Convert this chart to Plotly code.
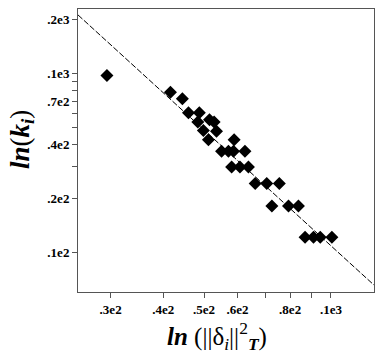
import numpy as np
import plotly.graph_objects as go

# scatter points (log-log axes)
norm_vals = [29.4, 41.6, 44.4, 45.9, 48.7, 48.3, 51.5, 52.8, 49.8, 53.5,
             51.2, 58.9, 55.0, 57.1, 58.7, 62.5, 58.1, 60.8, 63.7, 66.1,
             70.4, 75.4, 72.4, 79.3, 83.7, 86.8, 90.9, 94.3, 100.5]
k_vals = [97.5, 78.6, 72.2, 60.3, 60.3, 53.5, 55.1, 53.5, 48.0, 47.6,
          42.6, 42.6, 36.7, 36.7, 36.7, 36.7, 30.0, 30.0, 30.0, 24.2,
          24.2, 24.2, 18.1, 18.1, 18.1, 12.1, 12.1, 12.1, 12.1]

# fitted line endpoints
fit_x = [25.1, 126.5]
fit_y = [213, 6.54]

x_ticks = [30, 40, 50, 60, 80, 100]
x_labels = [".3e2", ".4e2", ".5e2", ".6e2", ".8e2", ".1e3"]
x_minor = [70, 90]
y_ticks = [10, 20, 40, 70, 100, 200]
y_labels = [".1e2", ".2e2", ".4e2", ".7e2", ".1e3", ".2e3"]
y_minor = [30, 50, 60, 80, 90]

SERIF = "Liberation Serif, Times New Roman, serif"

fig = go.Figure()

fig.add_trace(go.Scatter(
    x=fit_x, y=fit_y, mode="lines",
    line=dict(color="black", width=1, dash="6px,2px"),
    hoverinfo="skip", showlegend=False,
))

fig.add_trace(go.Scatter(
    x=norm_vals, y=k_vals, mode="markers",
    marker=dict(symbol="diamond", size=10, color="black", line=dict(width=0)),
    showlegend=False,
))

axis_common = dict(
    showgrid=False, zeroline=False, showline=True, mirror=True,
    linecolor="#555555", linewidth=1, ticks="outside", ticklen=5,
    tickcolor="#555555", tickmode="array",
    tickfont=dict(family=SERIF, size=13, color="black", weight="bold"),
)

fig.update_xaxes(
    type="log", range=[np.log10(25.1), np.log10(126.5)],
    tickvals=x_ticks, ticktext=x_labels,
    minor=dict(tickmode="array", tickvals=x_minor, ticks="outside",
               ticklen=5, tickcolor="#555555", showgrid=False),
    **axis_common,
)
fig.update_yaxes(
    type="log", range=[np.log10(5.98), np.log10(230)],
    tickvals=y_ticks, ticktext=y_labels,
    minor=dict(tickmode="array", tickvals=y_minor, ticks="outside",
               ticklen=5, tickcolor="#555555", showgrid=False),
    **axis_common,
)

fig.add_annotation(
    text="<b><i>ln</i></b> (||δ<sub><i>i</i></sub>||<sup>2</sup><sub><b><i>T</i></b></sub>)",
    xref="paper", yref="paper", x=0.47, y=-0.155,
    xanchor="center", yanchor="middle", showarrow=False,
    font=dict(family=SERIF, size=25, color="black"),
)
fig.add_annotation(
    text="<b><i>ln</i></b>(<b><i>k<sub>i</sub></i></b>)",
    xref="paper", yref="paper", x=-0.19, y=0.54,
    xanchor="center", yanchor="middle", textangle=-90, showarrow=False,
    font=dict(family=SERIF, size=27, color="black"),
)

fig.update_layout(
    width=382, height=354,
    margin=dict(l=78, r=8, t=9, b=62),
    plot_bgcolor="white", paper_bgcolor="white",
    showlegend=False,
)

# the page's default body margin would push the figure off the window
fig.write_html(
    "out.html",
    config={"displayModeBar": False},
    post_script="document.body.style.margin='0';",
)
